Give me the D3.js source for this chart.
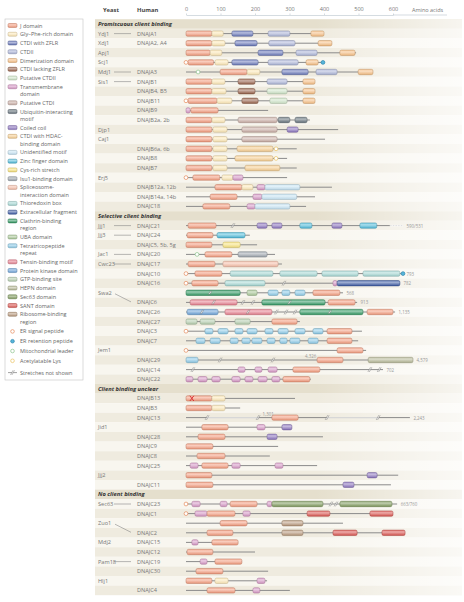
<!DOCTYPE html>
<html><head><meta charset="utf-8">
<script src="https://cdn.jsdelivr.net/npm/d3@7"></script>
<style>
html,body{margin:0;padding:0;background:#fff;}
svg{display:block;font-family:"Open Sans","Noto Sans",sans-serif;}
</style></head><body>
<svg id="c" width="464" height="602"></svg>
<script>
// ---------------- DATA ----------------
const sectionTitles = ["Promiscuous client binding","Selective client binding","Client binding unclear","No client binding"];
const sectionSizes = [19,17,10,10];
const axisTicks = [0,100,200,300,400,500,600];
const axisLabel = "Amino acids";

const yeastNames = ["Ydj1","Xdj1","Apj1","Scj1","Mdj1","Sis1","","","","","Djp1","Caj1","","","","Erj5","","","",
  "Jjj1","Jjj3","","Jac1","Cwc23","","","Swa2","","","","","","Jem1","","","",
  "","","","Jid1","","","","","Jjj2","",
  "Sec63","","Zuo1","","Mdj2","","Pam18","","Hlj1",""];
const humanNames = ["DNAJA1","DNAJA2, A4","","","DNAJA3","DNAJB1","DNAJB4, B5","DNAJB11","DNAJB9","DNAJB2a, 2b","","","DNAJB6a, 6b","DNAJB8","DNAJB7","","DNAJB12a, 12b","DNAJB14a, 14b","DNAJC18",
  "DNAJC21","DNAJC24","DNAJC5, 5b, 5g","DNAJC20","DNAJC17","DNAJC10","DNAJC16","","DNAJC6","DNAJC26","DNAJC27","DNAJC3","DNAJC7","","DNAJC29","DNAJC14","DNAJC22",
  "DNAJB13","DNAJB3","DNAJC13","","DNAJC28","DNAJC9","DNAJC8","DNAJC25","","DNAJC11",
  "DNAJC23","DNAJC1","","DNAJC2","DNAJC15","DNAJC12","DNAJC19","DNAJC30","","DNAJC4"];
// ortholog link: "-" straight, "\\" to next row
const orthologLinks = ["-","","","","-","-","","","","","","","","","","","","","",
  "-","-","","-","-","","","\\","","","","","","","","","",
  "","","","","","","","","","",
  "-","","\\","","","","-","","",""];
const lineEnds = [400,423,493,397,542,374,374,374,238,359,441,403,321,293,321,293,423,374,348,
  591,185,206,258,278,625,620,455,496,606,330,510,499,522,658,571,362,
  316,157,649,307,397,267,243,380,615,594,
  612,600,455,635,151,200,162,238,235,301];
const domainSpans = [
 [["J",0,75],["GF",75,108],["ctdiZ",133,194],["ctdii",238,301],["dim",362,400]],
 [["J",0,75],["GF",75,113],["ctdiZ",142,206],["ctdii",240,316],["dim",383,423]],
 [["J",0,70],["GF",70,104],["ctdiZ",209,281],["ctdii",319,380],["dim",446,490]],
 [["J",6,80],["GF",84,122],["ctdiZ",133,209],["ctdii",238,325],["dim",348,383]],
 [["J",99,177],["GF",177,214],["ctdiZ",278,354],["ctdii",377,438],["dim",499,542]],
 [["J",0,75],["GF",75,113],["ctdiL",151,200],["ctdii",235,293],["dim",339,374]],
 [["J",0,75],["GF",75,116],["ctdiL",151,200],["pctdii",235,293],["dim",339,374]],
 [["J",6,90],["GF",90,133],["ctdiL",162,209],["pctdii",243,293],["dim",339,374]],
 [["tm",0,12],["J",14,93]],
 [["J",0,75],["GF",75,113],["pctdi",151,264],["uim",267,301],["uim",316,351]],
 [["J",0,75],["GF",78,119],["pctdi",162,264],["cc",293,325]],
 [["J",0,75],["GF",78,119],["pctdi",162,264]],
 [["J",0,75],["GF",78,119],["hdac",148,252]],
 [["J",0,75],["GF",78,119],["hdac",142,252]],
 [["J",0,75],["GF",78,119],["hdac",171,272]],
 [["J",20,98],["GF",104,136],["tm",136,165]],
 [["J",84,162],["GF",162,194],["tm",206,229],["unid",229,330]],
 [["J",70,148],["tm",194,220],["unid",220,321]],
 [["J",49,127],["tm",177,200],["unid",200,301]],
 [["J",6,87],["cc",206,235],["cc",249,278],["znf",330,365],["cc",423,452],["znf",504,553]],
 [["J",3,78],["znf",90,171]],
 [["J",0,75],["cys",107,157]],
 [["J",55,133],["isu",151,235]],
 [["J",6,84],["spl",107,267]],
 [["J",26,104],["trx",128,252],["trx",272,380],["trx",394,499],["trx",513,620]],
 [["J",17,93],["trx",113,229],["tm",426,438],["exc",438,620]],
 [["cla",0,157],["uba",177,206],["tpr",238,267],["tpr",278,301],["tpr",316,345],["J",368,446]],
 [["ten",12,148],["cla",220,403],["J",412,490]],
 [["pk",3,93],["ten",113,249],["cla",330,513],["J",525,600]],
 [["gtp",0,32],["gtp",41,84],["gtp",142,186],["J",249,322]],
 [["tpr",55,78],["tpr",93,122],["tpr",142,165],["tpr",177,206],["tpr",229,252],["tpr",267,296],["tpr",316,345],["tpr",368,397],["J",409,481]],
 [["tpr",29,55],["tpr",70,99],["tpr",128,151],["tpr",162,186],["tpr",191,220],["tpr",235,258],["tpr",272,293],["tpr",301,330],["tpr",354,383],["J",409,481]],
 [["J",438,513]],
 [["tpr",0,35],["J",380,455],["hepn",528,658]],
 [["tm",151,171],["tm",200,220],["tm",238,264],["J",310,388]],
 [["tm",0,20],["tm",35,61],["tm",75,99],["tm",133,157],["tm",171,194],["tm",209,235],["tm",249,272],["J",281,359]],
 [["J",0,75],["GF",75,113]],
 [["J",0,75],["GF",75,113]],
 [["J",249,325]],
 [["J",46,122],["tm",206,229],["cc",278,307]],
 [["J",35,113],["cc",235,264]],
 [["J",0,78]],
 [["J",32,113]],
 [["tm",12,35],["J",46,122],["tm",133,157],["tm",258,281]],
 [["J",0,75],["cc",525,554]],
 [["J",0,78],["cc",455,487]],
 [["tm",17,41],["tm",99,119],["J",128,206],["tm",235,249],["sec",249,397],["sec",446,597]],
 [["tm",26,61],["J",61,142],["tm",165,186],["sant",351,417],["sant",533,600]],
 [["J",99,177],["rib",278,339]],
 [["J",61,136],["rib",278,339],["sant",426,496],["sant",568,635]],
 [["tm",17,35],["J",75,151]],
 [["J",3,78]],
 [["tm",41,61],["J",84,162]],
 [["J",29,107]],
 [["J",0,75],["GF",84,122],["tm",206,229]],
 [["J",61,142],["tm",194,214]]
];
// site markers [type, aa]
const siteMarks = {3:[["sig",0],["ret",397]],4:[["mito",35]],7:[["sig",0]],12:[["lys",261]],13:[["lys",261]],15:[["sig",0]],
  22:[["mito",32]],24:[["sig",0],["ret",629]],25:[["sig",0]],30:[["sig",0]],32:[["sig",0]],46:[["sig",0]],47:[["sig",0]]};
const breakMarks = {19:[136],25:[284],26:[70],27:[80,165,194,300],28:[46,180,262,290,316,417],33:[99,252],34:[20,533,560],38:[61,209,409,557],46:[420,435]};
const faintSpans = {19:[[591,629]],38:[[61,209],[409,557]]};
const endNotes = {19:"590/531",24:"793",25:"782",26:"568",27:"913",28:"1,135",33:"4,579",34:"702",38:"2,243",46:"663/760"};
const midNotes = [[33,345,"4,326"],[38,222,"1,301"]];
const mutatedSites = {36:[17]};

const legendTypes = ["J","GF","ctdiZ","ctdii","dim","ctdiL","pctdii","tm","pctdi","uim","cc","hdac","unid","znf","cys","isu","spl","trx","exc","cla","uba","tpr","ten","pk","gtp","hepn","sec","sant","rib","sig","ret","mito","lys","brk"];
const legendLabels = [["J domain"],["Gly–Phe-rich domain"],["CTDI with ZFLR"],["CTDII"],["Dimerization domain"],["CTDI lacking ZFLR"],["Putative CTDII"],["Transmembrane","domain"],["Putative CTDI"],["Ubiquitin-interacting","motif"],["Coiled coil"],["CTDI with HDAC-","binding domain"],["Unidentified motif"],["Zinc finger domain"],["Cys-rich stretch"],["Isu1-binding domain"],["Spliceosome-","interaction domain"],["Thioredoxin box"],["Extracellular fragment"],["Clathrin-binding","region"],["UBA domain"],["Tetratricopeptide","repeat"],["Tensin-binding motif"],["Protein kinase domain"],["GTP-binding site"],["HEPN domain"],["Sec63 domain"],["SANT domain"],["Ribosome-binding","region"],["ER signal peptide"],["ER retention peptide"],["Mitochondrial leader"],["Acetylatable Lys"],["Stretches not shown"]];

// ---------------- STYLE ----------------
const typeColors = {J:"#f29a7c",GF:"#fbe6b4",ctdiZ:"#6877b8",ctdii:"#aab3d6",dim:"#f5bd82",ctdiL:"#96614a",pctdii:"#cde3c6",
  tm:"#d596c4",pctdi:"#c8aca4",uim:"#637079",cc:"#8a73bd",hdac:"#f5cc8e",unid:"#c4e2f2",znf:"#4fbad8",cys:"#f7e27c",
  isu:"#9aa2ab",spl:"#f5bca6",trx:"#a4d6d2",exc:"#3c5aa3",cla:"#2f9660",uba:"#a8c697",tpr:"#8ac8e6",ten:"#e47c8c",
  pk:"#6aa0d6",gtp:"#b3ccac",hepn:"#b4b795",sec:"#7d985a",sant:"#d8534e",rib:"#b6977a"};
const siteStyle = {sig:{fill:"#fff",stroke:"#e5895a"},ret:{fill:"#56b5db",stroke:"#2f86ad"},mito:{fill:"#fff",stroke:"#8cc48c"},lys:{fill:"#fff",stroke:"#e9c25f"}};

const W=464,H=602;
const svg=d3.select("#c");
const defs=svg.append("defs");
Object.entries(typeColors).forEach(([k,c])=>{
  const g=defs.append("linearGradient").attr("id","g_"+k).attr("x1",0).attr("x2",0).attr("y1",0).attr("y2",1);
  g.append("stop").attr("offset","0%").attr("stop-color",d3.interpolateRgb(c,"#fff")(0.2));
  g.append("stop").attr("offset","35%").attr("stop-color",d3.interpolateRgb(c,"#fff")(0.5));
  g.append("stop").attr("offset","100%").attr("stop-color",d3.color(c).darker(0.15));
});
const fade=defs.append("linearGradient").attr("id","fade").attr("x1",0).attr("x2",1).attr("y1",0).attr("y2",0);
fade.append("stop").attr("offset","0%").attr("stop-color","#fff").attr("stop-opacity",0);
fade.append("stop").attr("offset","60%").attr("stop-color","#fff").attr("stop-opacity",0);
fade.append("stop").attr("offset","100%").attr("stop-color","#fff").attr("stop-opacity",0.7);

const x=d3.scaleLinear().domain([0,600]).range([186,393]);
// slots
const rowSlot=[],headerSlot=[];
let s=0,r=0;
sectionSizes.forEach((n,k)=>{headerSlot[k]=s++;for(let j=0;j<n;j++){rowSlot[r++]=s++;}});
const y=d3.scaleLinear().domain([0,s-1]).range([24,24+(s-1)*9.6]);
const slotH=9.6;
const tableX0=95,tableX1=462;

// backgrounds
const bg=svg.append("g");
for(let k=0;k<s;k++){
  const isHeader=headerSlot.includes(k);
  bg.append("rect").attr("x",tableX0).attr("width",tableX1-tableX0).attr("y",y(k)-slotH/2).attr("height",slotH)
    .attr("fill",isHeader?"#e5dfcd":(k%2? "#efebdf":"#f8f6ef"));
}
bg.append("rect").attr("x",tableX0).attr("width",tableX1-tableX0).attr("y",y(0)-slotH/2).attr("height",s*slotH).attr("fill","url(#fade)");

// header texts
svg.append("text").attr("x",103).attr("y",10).text("Yeast").attr("font-size",5.8).attr("font-weight","bold").attr("fill","#444").attr("dominant-baseline","central");
svg.append("text").attr("x",137).attr("y",10).text("Human").attr("font-size",5.8).attr("font-weight","bold").attr("fill","#444").attr("dominant-baseline","central");

// axis
const ax=svg.append("g").attr("transform","translate(0,15)").call(d3.axisTop(x).tickValues(axisTicks).tickSize(1.5).tickSizeOuter(0).tickFormat(d3.format("d")));
ax.select(".domain").attr("stroke","#b8c4cc").attr("stroke-width",0.6);
ax.selectAll(".tick line").attr("stroke","#b8c4cc").attr("stroke-width",0.6);
ax.selectAll(".tick text").attr("font-size",5.5).attr("fill","#777").attr("font-family","Open Sans").attr("y",-4);
svg.append("line").attr("x1",x(600)).attr("x2",447).attr("y1",15).attr("y2",15).attr("stroke","#b8c4cc").attr("stroke-width",0.6);
svg.append("text").attr("x",412).attr("y",10).text(axisLabel).attr("font-size",5.5).attr("fill","#777").attr("dominant-baseline","central");

// section titles
sectionTitles.forEach((t,k)=>{
  svg.append("text").attr("x",98).attr("y",y(headerSlot[k])).text(t).attr("font-size",5.8).attr("font-weight","bold").attr("font-style","italic").attr("fill","#333").attr("dominant-baseline","central");
});

function drawBreak(g,px,cy){
  g.append("path").attr("d",`M${px-1.6},${cy+1.3}L${px+0.4},${cy-1.3}L${px+1.6},${cy-1.3}L${px-0.4},${cy+1.3}Z`).attr("fill","#fff").attr("opacity",0.9);
  g.append("path").attr("d",`M${px-2},${cy+2.4}L${px+0.6},${cy-2.4}M${px-0.6},${cy+2.4}L${px+2},${cy-2.4}`).attr("stroke","#7d7d7d").attr("stroke-width",0.5).attr("fill","none");
}

// rows
const rowsG=svg.append("g");
humanNames.forEach((hn,i)=>{
  const cy=y(rowSlot[i]);
  const g=rowsG.append("g");
  if(yeastNames[i]) g.append("text").attr("x",98).attr("y",cy).text(yeastNames[i]).attr("font-size",5.6).attr("fill","#777").attr("dominant-baseline","central");
  if(hn) g.append("text").attr("x",137).attr("y",cy).text(hn).attr("font-size",5.6).attr("fill","#777").attr("dominant-baseline","central");
  if(orthologLinks[i]==="-") g.append("line").attr("x1",114).attr("x2",131).attr("y1",cy).attr("y2",cy).attr("stroke","#888").attr("stroke-width",0.6);
  if(orthologLinks[i]==="\\") g.append("line").attr("x1",115).attr("x2",131).attr("y1",cy+1).attr("y2",y(rowSlot[i+1])-0.5).attr("stroke","#888").attr("stroke-width",0.6);
  // backbone
  g.append("line").attr("x1",x(0)).attr("x2",x(lineEnds[i])).attr("y1",cy).attr("y2",cy).attr("stroke","#8a8a8a").attr("stroke-width",1);
  (faintSpans[i]||[]).forEach(([a,b])=>{
    g.append("line").attr("x1",x(a)).attr("x2",x(b)).attr("y1",cy).attr("y2",cy).attr("stroke","#fff").attr("stroke-width",1.4);
    g.append("line").attr("x1",x(a)).attr("x2",x(b)).attr("y1",cy).attr("y2",cy).attr("stroke","#b5b5b5").attr("stroke-width",0.6).attr("stroke-dasharray",i===19?"0.8,0.8":null);
  });
  // domains
  domainSpans[i].forEach(([t,a,b])=>{
    const c=typeColors[t];
    g.append("rect").attr("x",x(a)).attr("width",Math.max(1,x(b)-x(a))).attr("y",cy-2.7).attr("height",5.4).attr("rx",1.6)
      .attr("fill",`url(#g_${t})`).attr("stroke",d3.color(c).darker(0.7)).attr("stroke-width",0.5);
  });
  (breakMarks[i]||[]).forEach(a=>drawBreak(g,x(a),cy));
  (siteMarks[i]||[]).forEach(([t,a])=>{
    g.append("circle").attr("cx",x(a)).attr("cy",cy).attr("r",1.9).attr("fill",siteStyle[t].fill).attr("stroke",siteStyle[t].stroke).attr("stroke-width",0.7);
  });
  (mutatedSites[i]||[]).forEach(a=>{
    const px=x(a);
    g.append("path").attr("d",`M${px-2},${cy-2.6}L${px+2},${cy+2.6}M${px+2},${cy-2.6}L${px-2},${cy+2.6}`).attr("stroke","#d8262a").attr("stroke-width",0.9);
  });
  if(endNotes[i]){
    const marks=(siteMarks[i]||[]).map(d=>d[1]);
    const ends=[lineEnds[i],...marks,...((faintSpans[i]||[]).map(d=>d[1]))];
    g.append("text").attr("x",x(d3.max(ends))+3.5).attr("y",cy).text(endNotes[i]).attr("font-size",4.4).attr("fill","#999").attr("dominant-baseline","central");
  }
});
midNotes.forEach(([i,a,t])=>{
  svg.append("text").attr("x",x(a)).attr("y",y(rowSlot[i])-3.6).text(t).attr("font-size",4.4).attr("fill","#999").attr("dominant-baseline","central");
});

// legend
svg.append("rect").attr("x",5).attr("y",19).attr("width",78).attr("height",361).attr("fill","#fff").attr("stroke","#c4c4c4").attr("stroke-width",0.6);
let ly=25.5;
const lg=svg.append("g");
legendTypes.forEach((t,k)=>{
  const lines=legendLabels[k];
  const isSite=siteStyle[t]!==undefined;
  if(t==="brk") ly+=2;
  if(typeColors[t]){
    lg.append("rect").attr("x",8).attr("y",ly-2).attr("width",9).attr("height",4).attr("rx",1.2).attr("fill",`url(#g_${t})`).attr("stroke",d3.color(typeColors[t]).darker(0.7)).attr("stroke-width",0.5);
  } else if(isSite){
    lg.append("circle").attr("cx",12.5).attr("cy",ly).attr("r",1.8).attr("fill",siteStyle[t].fill).attr("stroke",siteStyle[t].stroke).attr("stroke-width",0.7);
  } else {
    lg.append("line").attr("x1",8).attr("x2",17).attr("y1",ly).attr("y2",ly).attr("stroke","#8a8a8a").attr("stroke-width",0.8);
    drawBreak(lg,12.5,ly);
  }
  lines.forEach((ln,j)=>{
    lg.append("text").attr("x",20).attr("y",ly+j*7.3).text(ln).attr("font-size",5.5).attr("fill","#666").attr("dominant-baseline","central");
  });
  ly+= (lines.length-1)*7.3 + (isSite||t==="rib"? 9.8: 8.75);
});
</script></body></html>
